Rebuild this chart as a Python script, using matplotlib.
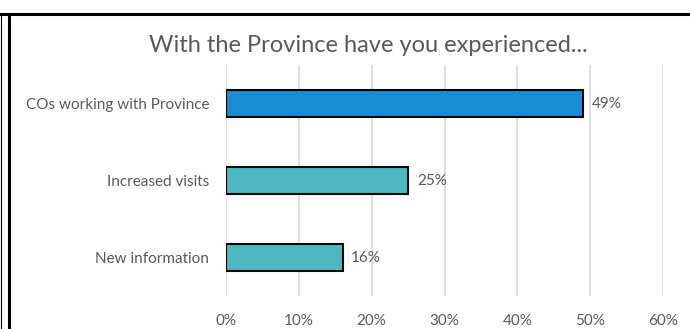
import matplotlib
matplotlib.use("Agg")
import matplotlib.pyplot as plt
from matplotlib.lines import Line2D

plt.rcParams["font.family"] = ["Lato", "DejaVu Sans"]

TEXT = "#595959"
BLUE, TEAL = "#1a8cd6", "#4db8c2"

categories = ["COs working with Province", "Increased visits", "New information"]
values = [49, 25, 16]
bar_colors = [BLUE, TEAL, TEAL]
xticks = [0, 10, 20, 30, 40, 50, 60]

fig = plt.figure(figsize=(6.9, 3.29), dpi=100)
ax = fig.add_axes([226 / 690, 1 - 296 / 329, (663 - 226) / 690, (296 - 65) / 329])

ypos = list(range(len(categories)))
ax.barh(ypos, values, height=0.35, color=bar_colors, edgecolor="black", linewidth=1.5, zorder=3)
for y, v in zip(ypos, values):
    ax.text(v + 1.2, y, f"{v}%", va="center", ha="left", fontsize=11, color=TEXT)

ax.set_xlim(0, 60)
ax.set_ylim(2.5, -0.5)
ax.set_xticks(xticks)
ax.set_xticklabels([f"{t}%" for t in xticks], fontsize=11, color=TEXT)
ax.set_yticks(ypos)
ax.set_yticklabels(categories, fontsize=11, color=TEXT)
ax.tick_params(axis="x", length=0, pad=13)
ax.tick_params(axis="y", length=0, pad=12)
ax.grid(axis="x", color="#d9d9d9", lw=1.2, zorder=0)
for s in ax.spines.values():
    s.set_visible(False)

fig.text(368 / 690, 1 - 45 / 329, "With the Province have you experienced...",
         ha="center", va="center", fontsize=17, color=TEXT)

# frame lines around the panel
fig.add_artist(Line2D([0, 1], [1 - 14 / 329] * 2, color="black", lw=2.2))
fig.add_artist(Line2D([9 / 690] * 2, [0, 1 - 14 / 329], color="black", lw=2.2))
fig.add_artist(Line2D([1 / 690] * 2, [0, 1 - 14 / 329], color="black", lw=0.8))

fig.savefig("out.png", dpi=100)
